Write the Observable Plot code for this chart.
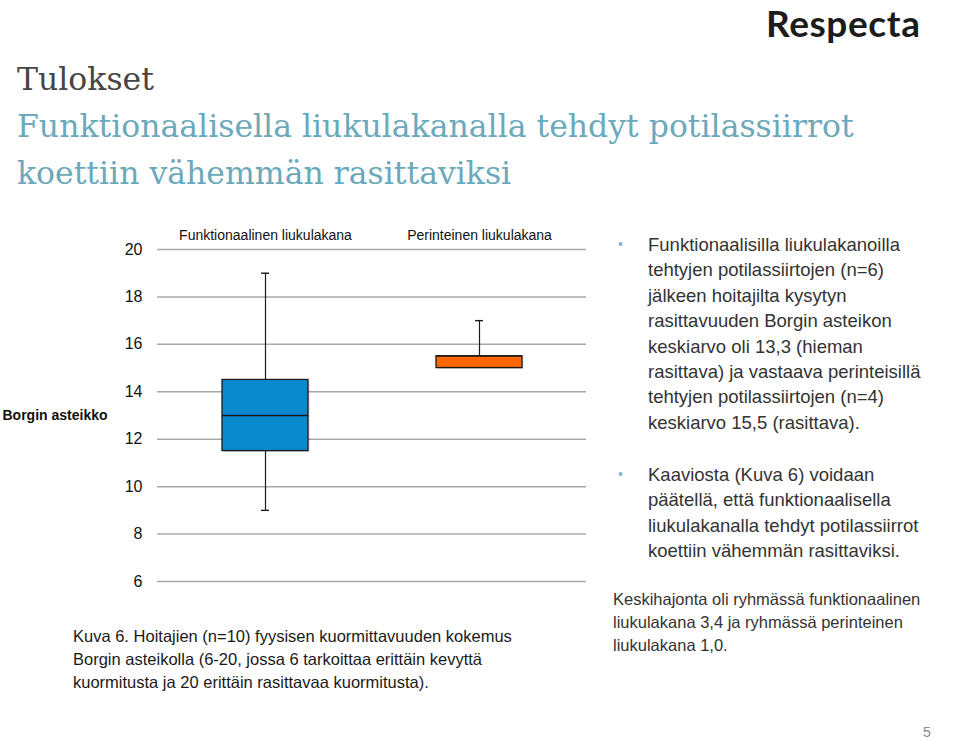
<!DOCTYPE html>
<html>
<head>
<meta charset="utf-8">
<script src="https://cdn.jsdelivr.net/npm/d3@7"></script>
<script src="https://cdn.jsdelivr.net/npm/@observablehq/plot@0.6"></script>
<style>
  html, body { margin: 0; padding: 0; background: #fff; }
  body { width: 960px; height: 740px; position: relative; overflow: hidden; font-family: "Liberation Sans", Arial, sans-serif; }
  .abs { position: absolute; white-space: nowrap; }
  #title { left: 17px; top: 56px; font-family: "DejaVu Serif", Georgia, serif; font-size: 31.5px; line-height: 47px; color: #454545; }
  #title .sub { color: #6ca9ba; }
  #logo { left: 766px; top: 0px; font-family: Lato, "Open Sans", sans-serif; font-weight: 700; font-size: 37px; line-height: normal; color: #1c1c1c; letter-spacing: 0.6px; }
  .bullet { color: #333; font-size: 18.5px; line-height: 25.4px; left: 648px; }
  .dot { position: absolute; left: -30px; top: 0; color: #86b5c6; font-size: 14px; }
  #b1 { top: 232px; }
  #b2 { top: 462px; }
  #sd { left: 613px; top: 588px; font-size: 16.5px; line-height: 23px; color: #333; }
  #caption { left: 73px; top: 625px; font-size: 16.5px; line-height: 23px; color: #1a1a1a; }
  #page { left: 923px; top: 724px; font-size: 14px; color: #8a8a8a; }
  #chart { position: absolute; left: 0; top: 215px; }
</style>
</head>
<body>
<div id="title" class="abs">Tulokset<br><span class="sub">Funktionaalisella liukulakanalla tehdyt potilassiirrot<br>koettiin vähemmän rasittaviksi</span></div>
<div id="logo" class="abs">Respecta</div>
<div id="b1" class="abs bullet"><span class="dot">•</span>Funktionaalisilla liukulakanoilla<br>tehtyjen potilassiirtojen (n=6)<br>jälkeen hoitajilta kysytyn<br>rasittavuuden Borgin asteikon<br>keskiarvo oli 13,3 (hieman<br>rasittava) ja vastaava perinteisillä<br>tehtyjen potilassiirtojen (n=4)<br>keskiarvo 15,5 (rasittava).</div>
<div id="b2" class="abs bullet"><span class="dot">•</span>Kaaviosta (Kuva 6) voidaan<br>päätellä, että funktionaalisella<br>liukulakanalla tehdyt potilassiirrot<br>koettiin vähemmän rasittaviksi.</div>
<div id="sd" class="abs">Keskihajonta oli ryhmässä funktionaalinen<br>liukulakana 3,4 ja ryhmässä perinteinen<br>liukulakana 1,0.</div>
<div id="caption" class="abs">Kuva 6. Hoitajien (n=10) fyysisen kuormittavuuden kokemus<br>Borgin asteikolla (6-20, jossa 6 tarkoittaa erittäin kevyttä<br>kuormitusta ja 20 erittäin rasittavaa kuormitusta).</div>
<div id="page" class="abs">5</div>
<div id="chart"></div>
<script>
// Data
const groups = ["Funktionaalinen liukulakana", "Perinteinen liukulakana"];
const minimums = [9, 15];
const lowerQuartiles = [11.5, 15];
const medians = [13, 15.5];
const upperQuartiles = [14.5, 15.5];
const maximums = [19, 17];
const boxColors = ["#0a89cf", "#ff6600"];
const yTicks = [6, 8, 10, 12, 14, 16, 18, 20];
const yLabel = "Borgin asteikko";

const table = groups.map((g, i) => ({
  group: g, min: minimums[i], q1: lowerQuartiles[i], median: medians[i],
  q3: upperQuartiles[i], max: maximums[i], color: boxColors[i]
}));

const ink = "#1b1b1b";
const chart = Plot.plot({
  width: 600,
  height: 380,
  marginLeft: 157,
  marginRight: 14,
  marginTop: 34,
  marginBottom: 14,
  style: { fontFamily: "'Liberation Sans', Arial, sans-serif", color: "#111", background: "transparent" },
  x: { domain: groups, paddingInner: 0.6, paddingOuter: 0.3, axis: null },
  y: { domain: [6, 20], axis: null },
  color: { type: "identity" },
  marks: [
    Plot.ruleY(yTicks, { stroke: "#a8a8a8", strokeWidth: 1.5 }),
    Plot.axisY({ ticks: yTicks, tickSize: 0, tickPadding: 15, fontSize: 16, label: null }),
    Plot.axisX({ anchor: "top", tickSize: 0, tickPadding: 10, fontSize: 14, label: null }),
    Plot.text([yLabel], { frameAnchor: "left", dx: -155, textAnchor: "start", fontWeight: "bold", fontSize: 14 }),
    Plot.ruleX(table, { x: "group", y1: "q3", y2: "max", stroke: ink, strokeWidth: 1.2 }),
    Plot.ruleX(table, { x: "group", y1: "min", y2: "q1", stroke: ink, strokeWidth: 1.2, filter: d => d.min < d.q1 }),
    Plot.tickY(table, { x: "group", y: "max", insetLeft: 39, insetRight: 39, stroke: ink, strokeWidth: 1.4, filter: d => d.max > d.q3 }),
    Plot.tickY(table, { x: "group", y: "min", insetLeft: 39, insetRight: 39, stroke: ink, strokeWidth: 1.4, filter: d => d.min < d.q1 }),
    Plot.barY(table, { x: "group", y1: "q1", y2: "q3", fill: "#000", fillOpacity: 0.15, dx: 1.5, dy: 1.5 }),
    Plot.barY(table, { x: "group", y1: "q1", y2: "q3", fill: "color", stroke: ink, strokeWidth: 1.3 }),
    Plot.tickY(table, { x: "group", y: "median", stroke: ink, strokeWidth: 1.3 })
  ]
});
document.getElementById("chart").appendChild(chart);
</script>
</body>
</html>
